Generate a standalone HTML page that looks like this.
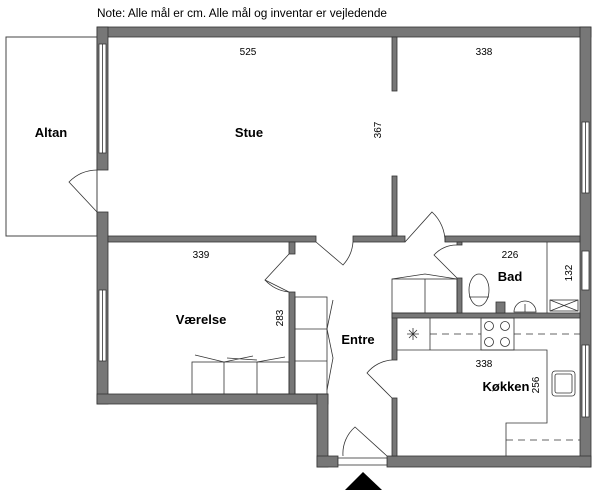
<!DOCTYPE html>
<html><head><meta charset="utf-8"><style>
html,body{margin:0;padding:0;background:#fff;}
svg{display:block;}
text{font-family:"Liberation Sans",sans-serif;fill:#000;}
.b{font-weight:bold;font-size:13px;}
.d{font-size:10px;}
</style></head><body>
<svg width="600" height="494" viewBox="0 0 600 494" xmlns="http://www.w3.org/2000/svg">
<text x="97" y="17" style="font-size:11.5px" textLength="290" lengthAdjust="spacingAndGlyphs">Note: Alle mål er cm. Alle mål og inventar er vejledende</text>
<rect x="6" y="37" width="91" height="199" fill="none" stroke="#444" stroke-width="1"/>
<g fill="#777" stroke="#333" stroke-width="0.8">
<rect x="97" y="27" width="494" height="10"/>
<rect x="97" y="27" width="11" height="143"/>
<rect x="97" y="212" width="11" height="192"/>
<rect x="580" y="27" width="11" height="440"/>
<rect x="97" y="394" width="231" height="10"/>
<rect x="317" y="394" width="11" height="73"/>
<rect x="317" y="456" width="21" height="11"/>
<rect x="387" y="456" width="204" height="11"/>
<rect x="108" y="236" width="208" height="6"/>
<rect x="353" y="236" width="52" height="6"/>
<rect x="445" y="236" width="135" height="6"/>
<rect x="392" y="37" width="5" height="54"/>
<rect x="392" y="176" width="5" height="60"/>
<rect x="289" y="242" width="6" height="12"/>
<rect x="289" y="292" width="6" height="102"/>
<rect x="392" y="313" width="5" height="47"/>
<rect x="392" y="398" width="5" height="58"/>
<rect x="392" y="313" width="188" height="5"/>
<rect x="457" y="242" width="5" height="3"/>
<rect x="457" y="278" width="5" height="35"/>
<rect x="496" y="302" width="9" height="11"/>
</g>
<g fill="#fff" stroke="#333" stroke-width="0.8">
<rect x="99" y="44" width="7" height="109"/>
<rect x="582" y="122" width="7" height="71"/>
<rect x="99" y="290" width="7" height="71"/>
<rect x="582" y="251" width="7" height="39"/>
<rect x="582" y="345" width="7" height="72"/>
<rect x="338" y="458" width="49" height="7"/>
</g>
<g fill="none" stroke="#333" stroke-width="0.8">
<line x1="102.5" y1="44" x2="102.5" y2="153"/>
<line x1="585.5" y1="122" x2="585.5" y2="193"/>
<line x1="102.5" y1="290" x2="102.5" y2="361"/>
<line x1="585.5" y1="345" x2="585.5" y2="417"/>
<path d="M97 212 L69 182 A40 40 0 0 1 97 170"/>
<path d="M316 242 L343 265 A38 38 0 0 0 353 242"/>
<path d="M405 242 L432 212 A40 40 0 0 1 445 242"/>
<path d="M289 292 L265 280 L289 254"/>
<path d="M265 280 A38 38 0 0 0 289 292"/>
<path d="M457 278 L434 255 A30 30 0 0 1 457 245"/>
<path d="M392 398 L367 373 A35 35 0 0 1 392 360"/>
<path d="M387 456 L355 427 A35 35 0 0 0 343 456"/>
<rect x="192" y="362" width="97" height="32"/>
<line x1="224" y1="362" x2="224" y2="394"/><line x1="257" y1="362" x2="257" y2="394"/>
<path d="M195 355 L224 362 L253 356 M257 362 L285 357 M257 360 L227 358"/>
<rect x="295" y="297" width="32" height="97"/>
<line x1="295" y1="329" x2="327" y2="329"/><line x1="295" y1="361" x2="327" y2="361"/>
<path d="M333 300 L327 329 L333 358 L327 390"/>
<rect x="392" y="279" width="65" height="34"/>
<line x1="425" y1="279" x2="425" y2="313"/>
<path d="M392 279 L425 274 L457 279"/>
<ellipse cx="479" cy="290" rx="10" ry="16"/>
<line x1="469" y1="297" x2="489" y2="297"/>
<path d="M514 312 A11 11 0 1 1 536 312 Z"/>
<line x1="525" y1="304" x2="525" y2="312"/>
<line x1="547" y1="242" x2="547" y2="313"/>
<rect x="550" y="300" width="28" height="11"/>
<path d="M550 300 L578 311 M578 300 L550 311"/>
<path d="M397 350 L547 350 L547 423 L506 423 L506 456"/>
<line x1="430" y1="318" x2="430" y2="350"/>
<rect x="481" y="318" width="33" height="32"/>
<circle cx="489" cy="326" r="4.5"/><circle cx="505" cy="326" r="4.5"/>
<circle cx="489" cy="342" r="4.5"/><circle cx="505" cy="342" r="4.5"/>
<path d="M430 334 L481 334 M514 334 L580 334 M506 440 L580 440" stroke-dasharray="7 5"/>
<path d="M407 334 L419 334 M413 328 L413 340 M409 330 L417 338 M417 330 L409 338"/>
<rect x="552" y="371" width="23" height="25" rx="3"/>
<rect x="555" y="374" width="17" height="19" rx="2"/>
</g>
<polygon points="345,490 363,472 382,490" fill="#000"/>
<text class="b" x="51" y="137" text-anchor="middle">Altan</text>
<text class="b" x="249" y="137" text-anchor="middle">Stue</text>
<text class="b" x="201" y="324" text-anchor="middle">Værelse</text>
<text class="b" x="358" y="344" text-anchor="middle">Entre</text>
<text class="b" x="510" y="281" text-anchor="middle">Bad</text>
<text class="b" x="506" y="391" text-anchor="middle">Køkken</text>
<text class="d" x="248" y="55" text-anchor="middle">525</text>
<text class="d" x="484" y="55" text-anchor="middle">338</text>
<text class="d" x="201" y="258" text-anchor="middle">339</text>
<text class="d" x="510" y="258" text-anchor="middle">226</text>
<text class="d" x="484" y="367" text-anchor="middle">338</text>
<text class="d" transform="translate(381,130) rotate(-90)" text-anchor="middle">367</text>
<text class="d" transform="translate(283,318) rotate(-90)" text-anchor="middle">283</text>
<text class="d" transform="translate(572,273) rotate(-90)" text-anchor="middle">132</text>
<text class="d" transform="translate(539,385) rotate(-90)" text-anchor="middle">256</text>
</svg>
</body></html>
